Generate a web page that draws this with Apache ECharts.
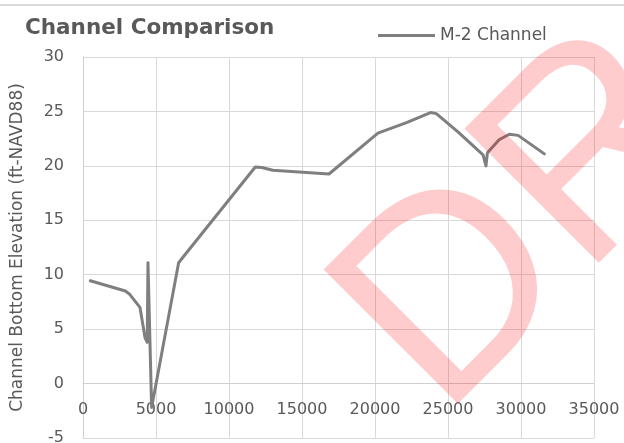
<!DOCTYPE html>
<html>
<head>
<meta charset="utf-8">
<script src="https://cdn.jsdelivr.net/npm/echarts@6/dist/echarts.min.js"></script>
<style>
  html, body { margin: 0; padding: 0; background: #ffffff; }
  #chart { width: 624px; height: 443px; }
</style>
</head>
<body>
<div id="chart"></div>
<script>
// Station along channel (ft) and channel bottom elevation (ft-NAVD88)
var distance = [500, 2900, 3200, 3900, 4250, 4400, 4450, 4700, 6550, 6900, 11800, 12250, 13000, 16850, 20200, 22200, 23800, 24200, 25700, 27400, 27600, 27700, 28500, 29200, 29800, 31600];
var elevation = [9.45, 8.5, 8.2, 7.0, 4.2, 3.8, 11.1, -2.2, 11.1, 11.7, 19.9, 19.85, 19.6, 19.25, 23.0, 24.0, 24.9, 24.8, 23.1, 21.0, 20.0, 21.2, 22.4, 22.9, 22.8, 21.1];
var seriesName = 'M-2 Channel';
var chartTitle = 'Channel Comparison';
var yAxisTitle = 'Channel Bottom Elevation (ft-NAVD88)';
var watermarkText = 'DRAFT';
var yMin = -5, yMax = 30, yStep = 5;
var xMin = 0, xMax = 35000, xStep = 5000;

var points = distance.map(function (d, i) { return [d, elevation[i]]; });
var textColor = '#595959';
var gridColor = '#d9d9d9';
var fontFam = '"DejaVu Sans", sans-serif';

var chart = echarts.init(document.getElementById('chart'), null, { renderer: 'canvas' });
chart.setOption({
  animation: false,
  backgroundColor: '#ffffff',
  title: {
    text: chartTitle,
    left: 20,
    top: 12,
    textStyle: { fontFamily: fontFam, fontSize: 21.5, fontWeight: 'bold', color: textColor }
  },
  legend: {
    left: 373,
    top: 22,
    icon: 'rect',
    itemWidth: 57,
    itemHeight: 3,
    textStyle: { fontFamily: fontFam, fontSize: 17, color: textColor },
    data: [seriesName]
  },
  grid: { left: 83, right: 30, top: 57, bottom: 5, containLabel: false, outerBoundsMode: 'none' },
  xAxis: {
    type: 'value',
    min: xMin, max: xMax, interval: xStep,
    axisLine: { show: true, onZero: false, lineStyle: { color: '#cfcfcf', width: 1 } },
    axisTick: { show: false },
    axisLabel: {
      fontFamily: fontFam, fontSize: 16, color: textColor, margin: 18,
      formatter: function (v) { return String(v); }
    },
    splitLine: { show: true, lineStyle: { color: gridColor, width: 1 } }
  },
  yAxis: {
    type: 'value',
    min: yMin, max: yMax, interval: yStep,
    name: yAxisTitle,
    nameLocation: 'middle',
    nameGap: 57,
    nameRotate: 90,
    nameTextStyle: { fontFamily: fontFam, fontSize: 17, color: textColor },
    axisLine: { show: true, onZero: false, lineStyle: { color: '#cfcfcf', width: 1 } },
    axisTick: { show: false },
    axisLabel: { fontFamily: fontFam, fontSize: 16, color: textColor, margin: 19 },
    splitLine: { show: true, lineStyle: { color: gridColor, width: 1 } }
  },
  series: [{
    name: seriesName,
    type: 'line',
    data: points,
    symbol: 'none',
    smooth: false,
    lineStyle: { color: '#7f7f7f', width: 3, join: 'round', cap: 'round' },
    itemStyle: { color: '#7f7f7f' }
  }],
  graphic: [
    {
      type: 'line',
      shape: { x1: 0, y1: 5, x2: 624, y2: 5 },
      style: { stroke: '#d9d9d9', lineWidth: 2 },
      z: 50
    },
    {
      type: 'text',
      x: 388,
      y: 366,
      rotation: Math.PI / 4,
      z: 100,
      silent: true,
      style: {
        text: watermarkText,
        fontSize: 276,
        fontFamily: '"Liberation Sans", Arial, sans-serif',
        fill: 'rgba(250,0,0,0.2)',
        align: 'left',
        verticalAlign: 'middle'
      }
    }
  ]
});

// Cross the x axis at y = 0 (Excel style): move the axis up from the grid bottom to the zero line.
var yZero = chart.convertToPixel({ gridIndex: 0 }, [xMin, 0])[1];
var yBottom = chart.convertToPixel({ gridIndex: 0 }, [xMin, yMin])[1];
chart.setOption({ xAxis: { offset: -(yBottom - yZero) } });
</script>
</body>
</html>
